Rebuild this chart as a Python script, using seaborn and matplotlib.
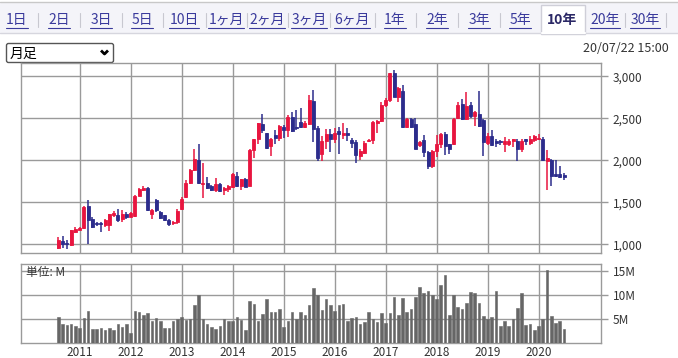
import numpy as np
import pandas as pd
import matplotlib
matplotlib.use("Agg")
import matplotlib.pyplot as plt
import seaborn as sns
from matplotlib.patches import Rectangle, FancyBboxPatch

# monthly candles, Aug 2010 - Jul 2020
months = pd.date_range("2010-08-01", periods=120, freq="MS")

opens = [960, 1035, 1015, 990, 1150, 1170, 1190, 1455, 1300, 1250,
         1250, 1230, 1230, 1345, 1350, 1300, 1360, 1330, 1340, 1580,
         1650, 1665, 1360, 1530, 1390, 1345, 1290, 1250, 1270, 1420,
         1560, 1730, 1880, 2000, 1720, 1735, 1695, 1645, 1715, 1650,
         1655, 1685, 1815, 1695, 1775, 1695, 2125, 2250, 2430, 2320,
         2170, 2300, 2270, 2400, 2360, 2520, 2400, 2460, 2400, 2430,
         2710, 2390, 2075, 2233, 2312, 2250, 2350, 2300, 2330, 2245,
         2215, 2055, 2090, 2230, 2245, 2450, 2470, 2660, 2720, 3040,
         2750, 2825, 2400, 2490, 2430, 2180, 2240, 2095, 1935, 2115,
         2195, 2310, 2190, 2190, 2500, 2670, 2490, 2660, 2530, 2555,
         2480, 2210, 2290, 2230, 2220, 2190, 2200, 2230, 2230, 2130,
         2250, 2210, 2240, 2250, 2250, 1990, 2000, 1835, 1840, 1825]
highs = [1090, 1095, 1050, 1175, 1200, 1200, 1460, 1525, 1320, 1270,
         1260, 1300, 1360, 1400, 1420, 1410, 1380, 1385, 1590, 1670,
         1700, 1680, 1420, 1545, 1400, 1350, 1300, 1280, 1420, 1560,
         1760, 1900, 2130, 2190, 1970, 1800, 1710, 1790, 1730, 1680,
         1710, 1850, 1860, 1780, 1790, 2135, 2260, 2450, 2550, 2330,
         2270, 2360, 2420, 2420, 2540, 2580, 2600, 2620, 2470, 2780,
         2840, 2410, 2290, 2370, 2375, 2380, 2400, 2450, 2380, 2270,
         2240, 2130, 2230, 2260, 2470, 2480, 2690, 2740, 3040, 3080,
         2870, 2900, 2500, 2510, 2500, 2230, 2300, 2110, 2120, 2300,
         2320, 2340, 2200, 2500, 2700, 2730, 2810, 2700, 2590, 2830,
         2490, 2320, 2360, 2250, 2240, 2280, 2260, 2260, 2250, 2260,
         2260, 2290, 2300, 2310, 2280, 2120, 2020, 2000, 1930, 1850]
lows = [940, 960, 945, 985, 1140, 1165, 1185, 1000, 1190, 1220,
        1150, 1210, 1160, 1330, 1270, 1260, 1300, 1320, 1330, 1570,
        1640, 1400, 1300, 1380, 1300, 1280, 1220, 1230, 1240, 1410,
        1550, 1720, 1870, 1720, 1555, 1660, 1630, 1620, 1620, 1590,
        1620, 1670, 1680, 1650, 1680, 1690, 2030, 2200, 2330, 2140,
        2050, 2200, 2230, 2270, 2280, 2340, 2360, 2380, 2380, 2420,
        2220, 1990, 1995, 2140, 2100, 2210, 2080, 2260, 2230, 2150,
        1970, 2000, 2080, 2220, 2190, 2330, 2460, 2640, 2700, 2750,
        2690, 2390, 2380, 2390, 2130, 2160, 2040, 1900, 1910, 2040,
        2150, 2060, 2070, 2180, 2490, 2480, 2480, 2500, 2410, 2400,
        2050, 2180, 2170, 2160, 2180, 2100, 2170, 2160, 1990, 2100,
        2180, 2180, 2220, 2240, 1990, 1650, 1700, 1800, 1790, 1760]
closes = [1050, 1000, 1000, 1170, 1180, 1190, 1450, 1290, 1210, 1240,
          1240, 1290, 1360, 1375, 1290, 1360, 1320, 1375, 1580, 1660,
          1670, 1410, 1410, 1410, 1310, 1290, 1240, 1270, 1400, 1540,
          1735, 1880, 2020, 1725, 1735, 1675, 1645, 1715, 1635, 1665,
          1700, 1835, 1695, 1775, 1685, 2125, 2250, 2440, 2360, 2150,
          2250, 2265, 2410, 2360, 2515, 2350, 2390, 2400, 2450, 2720,
          2370, 2030, 2233, 2312, 2260, 2330, 2310, 2330, 2300, 2205,
          2060, 2115, 2210, 2240, 2460, 2470, 2665, 2720, 3035, 2760,
          2865, 2400, 2490, 2400, 2140, 2220, 2095, 1935, 2115, 2195,
          2310, 2170, 2130, 2490, 2660, 2490, 2650, 2530, 2575, 2405,
          2220, 2290, 2180, 2210, 2215, 2230, 2225, 2250, 2130, 2230,
          2230, 2250, 2290, 2270, 2000, 2030, 1815, 1815, 1805, 1805]
volumes = [5.45, 4.0, 3.7, 3.9, 3.6, 3.2, 5.2, 6.7, 2.9, 3.0,
           3.2, 2.8, 3.2, 2.8, 4.0, 3.4, 4.0, 2.2, 6.7, 6.4,
           5.9, 6.3, 4.6, 5.2, 4.6, 3.2, 3.2, 4.6, 5.0, 5.45,
           4.8, 5.0, 7.9, 9.9, 5.0, 4.0, 3.3, 3.0, 3.5, 5.0,
           4.5, 4.6, 5.45, 4.8, 2.8, 8.8, 8.1, 4.6, 6.1, 9.2,
           6.5, 6.5, 7.0, 3.4, 4.6, 6.5, 5.0, 6.5, 5.9, 7.9,
           11.4, 9.9, 6.9, 9.2, 7.9, 6.7, 7.9, 8.1, 4.6, 5.2,
           5.45, 4.0, 4.3, 6.5, 5.0, 4.4, 6.3, 4.2, 6.3, 9.6,
           5.9, 9.4, 6.5, 7.1, 9.6, 11.7, 10.4, 10.8, 9.9, 9.2,
           12.1, 14.1, 5.9, 9.9, 7.5, 7.1, 8.3, 10.6, 10.4, 8.3,
           5.7, 5.0, 5.45, 10.8, 3.6, 4.6, 3.6, 5.0, 7.3, 10.4,
           3.8, 4.0, 2.8, 3.6, 5.0, 15.2, 5.7, 4.2, 4.6, 3.0]

price_ticks = [1000, 1500, 2000, 2500, 3000]
price_labels = ["1,000", "1,500", "2,000", "2,500", "3,000"]
vol_ticks = [5, 10, 15]
vol_labels = ["5M", "10M", "15M"]
tabs = ["1日", "2日", "3日", "5日", "10日", "1ヶ月", "2ヶ月", "3ヶ月", "6ヶ月",
        "1年", "2年", "3年", "5年", "10年", "20年", "30年"]
active_tab = "10年"

df = pd.DataFrame({"month": months, "open": opens, "high": highs,
                   "low": lows, "close": closes, "volume": volumes})
df["idx"] = np.arange(len(df))
year_pos = df.loc[df["month"].dt.month == 1, "idx"].tolist()
year_labels = [str(d.year) for d in df.loc[df["month"].dt.month == 1, "month"]]

sns.set_style("white")
plt.rcParams["font.family"] = ["Noto Sans CJK JP", "DejaVu Sans"]

W, H = 678, 358
fig = plt.figure(figsize=(W / 100, H / 100), dpi=100)

# pixel-space background layer
bg = fig.add_axes([0, 0, 1, 1], zorder=0)
bg.set_xlim(0, W)
bg.set_ylim(H, 0)
bg.axis("off")

bg.add_patch(Rectangle((0, 2), W, 31, facecolor="#f4f4f9", edgecolor="none"))
bg.plot([0, W], [1.5, 1.5], color="#c8c8c8", lw=1)
bg.plot([0, W], [33, 33], color="#d6d6de", lw=1)
bg.add_patch(Rectangle((541, 5), 44, 29, facecolor="white", edgecolor="#cfcfd8", lw=1))
bg.plot([541.5, 584.5], [33.2, 33.2], color="white", lw=1.5)

tab_x = [17, 59, 101, 142, 184, 226, 267, 309, 352, 395, 437, 479, 520, 562, 605, 645]
seps = [38, 80, 122, 163, 206, 247, 288, 330, 375, 416, 458, 500, 625, 666]
for s in seps:
    bg.plot([s, s], [13, 27], color="#c8c8d0", lw=0.8)

tab_texts = []
for t, x in zip(tabs, tab_x):
    if t == active_tab:
        bg.text(x, 20, t, ha="center", va="center", fontsize=10,
                fontweight="bold", color="#2b2866")
    else:
        tt = bg.text(x, 20, t, ha="center", va="center", fontsize=10,
                     color="#3a3a9c")
        tab_texts.append(tt)

# dropdown and timestamp
bg.add_patch(FancyBboxPatch((6.5, 43.5), 107, 19, boxstyle="round,pad=0,rounding_size=2",
                            facecolor="white", edgecolor="#555555", lw=1))
bg.text(10, 53.5, "月足", ha="left", va="center", fontsize=10, color="black")
bg.plot([101, 104.5, 108], [50.5, 54, 50.5], color="black", lw=2, solid_capstyle="butt")
bg.text(669, 49, "20/07/22 15:00", ha="right", va="center", fontsize=9, color="#333333")

# candle chart
ax = fig.add_axes([21 / W, 1 - 253 / H, 580 / W, 190 / H], zorder=1)
ax.set_facecolor("white")
up_col, down_col = "#e8153f", "#2c2c8c"
colors = [up_col if c >= o else down_col for o, c in zip(df["open"], df["close"])]
ax.vlines(df["idx"], df["low"], df["high"], colors=colors, lw=1.1, zorder=3)
body_lo = np.minimum(df["open"], df["close"])
body_h = np.maximum(np.abs(df["close"] - df["open"]), 12)
ax.bar(df["idx"], body_h, bottom=body_lo, width=0.72, color=colors,
       edgecolor=colors, linewidth=0.6, zorder=4)

xlim = (-8.8, 127.7)
ax.set_xlim(*xlim)
ax.set_ylim(896, 3160)
ax.set_xticks(year_pos)
ax.set_xticklabels([])
ax.set_yticks(price_ticks)
ax.set_yticklabels(price_labels)
ax.yaxis.tick_right()
ax.tick_params(axis="y", length=5, width=1, color="#999999", pad=3.5,
               labelsize=8.5, labelcolor="#333333")
ax.tick_params(axis="x", length=0)
ax.grid(True, color="#9a9a9a", lw=1)
for sp in ax.spines.values():
    sp.set_color("#9a9a9a")
    sp.set_linewidth(1)

# volume chart
axv = fig.add_axes([21 / W, 1 - 343.3 / H, 580 / W, 79 / H], zorder=1)
axv.set_facecolor("white")
sns.barplot(data=df, x="idx", y="volume", native_scale=True, width=0.62,
            color="#666666", saturation=1, edgecolor="#666666", linewidth=0.4,
            ax=axv, zorder=3)
axv.set_xlim(*xlim)
axv.set_ylim(0, 16.3)
axv.set_xticks(year_pos)
axv.set_xticklabels(year_labels)
axv.set_yticks(vol_ticks)
axv.set_yticklabels(vol_labels)
axv.yaxis.tick_right()
axv.set_xlabel("")
axv.set_ylabel("")
axv.tick_params(axis="y", length=5, width=1, color="#999999", pad=3.5,
                labelsize=8.5, labelcolor="#333333")
axv.tick_params(axis="x", length=0, pad=2, labelsize=8.5, labelcolor="#333333")
axv.grid(True, color="#9a9a9a", lw=1)
axv.set_axisbelow(True)
for sp in axv.spines.values():
    sp.set_color("#9a9a9a")
    sp.set_linewidth(1)
axv.text(0.008, 0.9, "単位: M", transform=axv.transAxes, ha="left", va="center",
         fontsize=8.5, color="#333333", zorder=5)

# underline tab links
fig.canvas.draw()
r = fig.canvas.get_renderer()
for tt in tab_texts:
    bb = tt.get_window_extent(renderer=r)
    bg.plot([bb.x0, bb.x1], [27.5, 27.5], color="#3a3a9c", lw=0.8)

fig.savefig("out.png", dpi=100, facecolor="white")
